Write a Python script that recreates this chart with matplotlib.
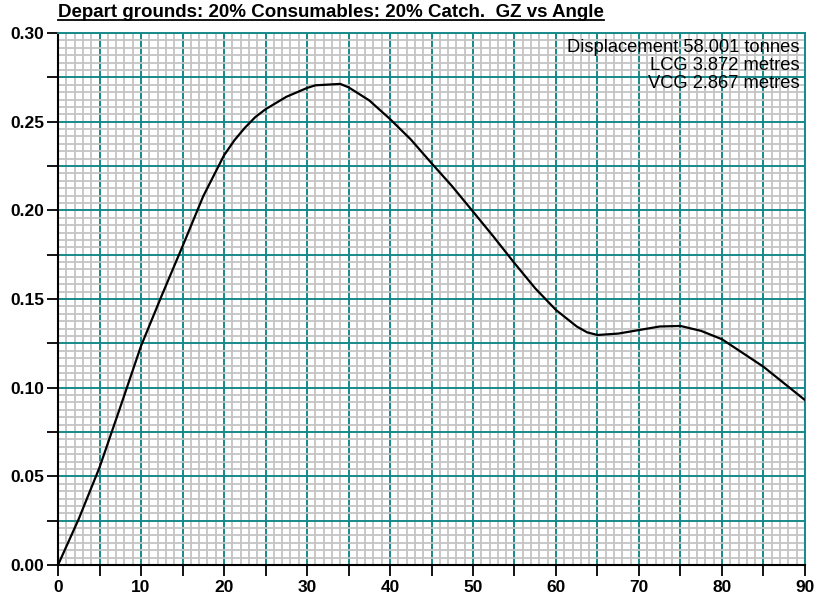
import numpy as np
import matplotlib
matplotlib.use("Agg")
import matplotlib.pyplot as plt
from matplotlib.ticker import MultipleLocator, FuncFormatter
from matplotlib.lines import Line2D

plt.rcParams['font.family'] = ['Liberation Sans', 'DejaVu Sans']

# GZ curve
angle = [0, 2.5, 5, 7.5, 10, 12.5, 15, 17.5, 20, 21.25, 22.5, 23.75, 25, 27.5,
         30, 31, 34, 35, 37.5, 40, 42.5, 45, 47.5, 50, 52.5, 55, 57.5, 60,
         62.5, 63.75, 65, 67.5, 70, 72.5, 75, 77.5, 80, 85, 90]
gz = [0.0, 0.026, 0.055, 0.089, 0.1235, 0.152, 0.1797, 0.208, 0.231, 0.2395,
      0.2465, 0.2525, 0.257, 0.264, 0.269, 0.2705, 0.2713, 0.2694, 0.262,
      0.2515, 0.240, 0.2266, 0.2135, 0.1993, 0.185, 0.1702, 0.156, 0.1438,
      0.1345, 0.1312, 0.1297, 0.1305, 0.1325, 0.1345, 0.1348, 0.132, 0.1273,
      0.1118, 0.093]

title = "Depart grounds: 20% Consumables: 20% Catch.  GZ vs Angle"
info = ["Displacement 58.001 tonnes", "LCG 3.872 metres", "VCG 2.867 metres"]

teal = "#16898a"
grey = "#c4c4c4"

fig = plt.figure(figsize=(8.16, 5.97), dpi=100)
ax = fig.add_axes([0.0711, 0.0536, 0.9154, 0.8911])

ax.plot(angle, gz, color="black", lw=1.6, zorder=5)

ax.set_xlim(0, 90)
ax.set_ylim(0, 0.30)

ax.xaxis.set_major_locator(MultipleLocator(5))
ax.yaxis.set_major_locator(MultipleLocator(0.025))
ax.xaxis.set_minor_locator(MultipleLocator(1))
ax.yaxis.set_minor_locator(MultipleLocator(0.025 / 6))
ax.xaxis.set_major_formatter(FuncFormatter(
    lambda v, p: "%d" % round(v) if round(v) % 10 == 0 else ""))
ax.yaxis.set_major_formatter(FuncFormatter(
    lambda v, p: "%.2f" % v if round(v * 1000) % 50 == 0 else ""))

ax.grid(True, which="minor", color=grey, lw=1.3, zorder=0)
ax.grid(True, which="major", color=teal, lw=1.4, zorder=1)
ax.set_axisbelow(True)

ax.tick_params(which="major", direction="out", length=8, width=1.3,
               labelsize=12.5, pad=2)
ax.tick_params(axis="x", which="major", pad=3)
ax.tick_params(which="minor", length=0)
for lab in ax.get_xticklabels() + ax.get_yticklabels():
    lab.set_fontweight("bold")

ax.spines["left"].set_linewidth(1.5)
ax.spines["bottom"].set_linewidth(1.5)
ax.spines["top"].set_color(teal)
ax.spines["right"].set_color(teal)
ax.spines["top"].set_linewidth(1.4)
ax.spines["right"].set_linewidth(1.4)

ax.text(0.9925, 0.988, "\n".join(info), transform=ax.transAxes,
        ha="right", va="top", fontsize=13.2, linespacing=1.08, zorder=6)

t = fig.text(0.0711, 0.979, title, ha="left", va="center",
             fontsize=13.5, fontweight="bold")
fig.canvas.draw()
bb = t.get_window_extent().transformed(fig.transFigure.inverted())
fig.add_artist(Line2D([bb.x0, bb.x1], [bb.y0 + 0.002, bb.y0 + 0.002],
                      transform=fig.transFigure, color="black", lw=1.3))

fig.savefig("out.png", dpi=100)
